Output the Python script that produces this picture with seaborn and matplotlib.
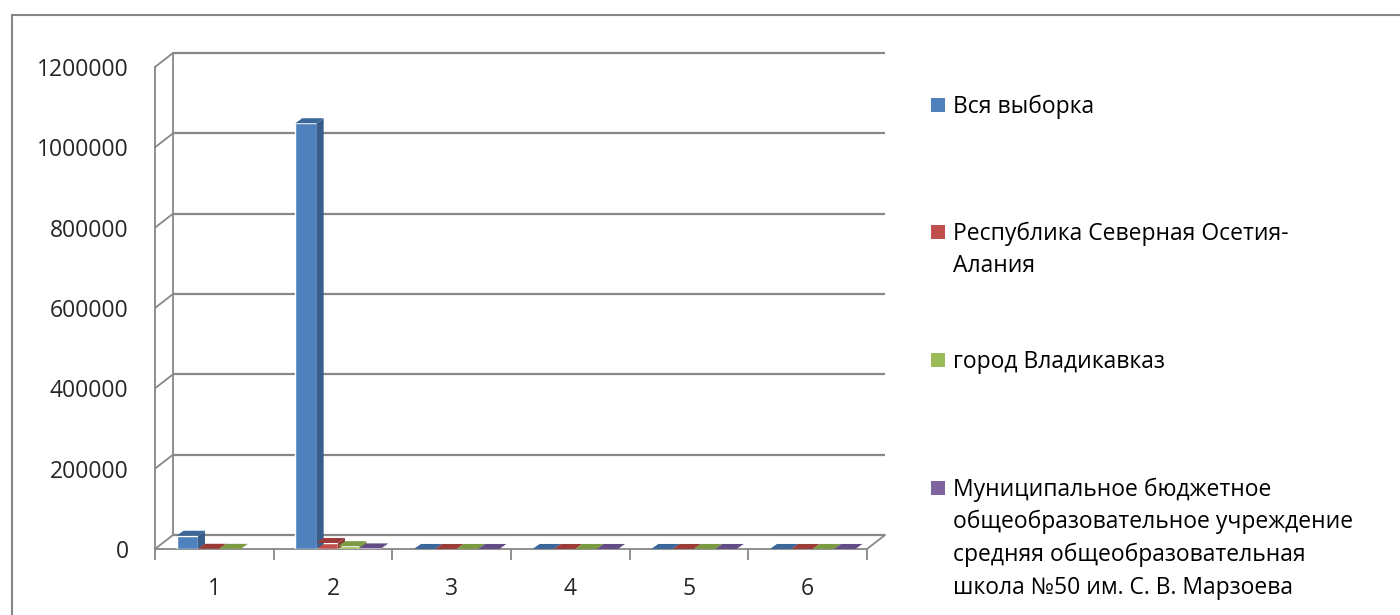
import numpy as np
import pandas as pd
import seaborn as sns
import matplotlib.pyplot as plt
from matplotlib.patches import Polygon, Rectangle
from matplotlib.colors import to_hex

categories = ['1', '2', '3', '4', '5', '6']
series = ['Вся выборка',
          'Республика Северная Осетия-\nАлания',
          'город Владикавказ',
          'Муниципальное бюджетное\nобщеобразовательное учреждение\nсредняя общеобразовательная\nшкола №50 им. С. В. Марзоева']
vsya = [33000, 1060000, 100, 100, 100, 100]
respublika = [500, 15000, 100, 100, 100, 100]
gorod = [400, 7000, 100, 100, 100, 100]
shkola = [np.nan, 1500, 100, 100, 100, 100]
yticks = [0, 200000, 400000, 600000, 800000, 1000000, 1200000]

colors = ['#4F81BD', '#C0504D', '#9BBB59', '#8064A2']
tops = ['#3B669A', '#9A3B38', '#7B9A42', '#634C86']
sides = ['#385D8A', '#8C3836', '#71893F', '#5C4776']

rows = []
for name, vals in zip(series, [vsya, respublika, gorod, shkola]):
    for c, v in zip(categories, vals):
        rows.append({'cat': c, 'series': name, 'val': v})
df = pd.DataFrame(rows)

sns.set_style('white')
plt.rcParams['font.family'] = ['Open Sans', 'DejaVu Sans']

W, H = 1400, 615
fig = plt.figure(figsize=(14, 6.15), dpi=100)
ax = fig.add_axes([155 / W, 66 / H, 712 / W, 482 / H])

sns.barplot(data=df, x='cat', y='val', hue='series', order=categories,
            hue_order=series, palette=colors, width=0.72, saturation=1,
            errorbar=None, legend=False, ax=ax, zorder=3)

ax.set_xlim(-0.5, 5.5)
ax.set_ylim(0, 1200000)

# pixel -> data conversion for the fake 3D depth
px_x = 6 / 712
px_y = 1200000 / 482
back_dx, back_dy = 18 * px_x, 14 * px_y
bar_dx, bar_dy = 7 * px_x, 5 * px_y

grey = '#878787'
# back wall gridlines and left-wall diagonals
x0b, x1b = -0.5 + back_dx, 5.5 + back_dx
for v in yticks:
    ax.plot([x0b, x1b], [v + back_dy, v + back_dy], color=grey, lw=1.6,
            zorder=1, clip_on=False, solid_capstyle='butt')
    ax.plot([-0.5, x0b], [v, v + back_dy], color=grey, lw=1.3,
            zorder=1, clip_on=False)
ax.plot([x0b, x0b], [back_dy, 1200000 + back_dy], color=grey, lw=1.3,
        zorder=1, clip_on=False)
ax.plot([5.5, x1b], [0, back_dy], color=grey, lw=1.3, zorder=1, clip_on=False)

# 3D faces for bars (bars nudged right a little, like Excel does)
cmap = {to_hex(c): i for i, c in enumerate(colors)}
shift = 5 * px_x
for p in list(ax.patches):
    h = p.get_height()
    i = cmap.get(to_hex(p.get_facecolor()))
    if i is None:
        continue
    p.set_x(p.get_x() + shift)
    if np.isnan(h):
        continue
    x0, x1 = p.get_x(), p.get_x() + p.get_width()
    ax.add_patch(Polygon([(x1, 0), (x1 + bar_dx, bar_dy), (x1 + bar_dx, h + bar_dy), (x1, h)],
                         closed=True, facecolor=sides[i], edgecolor='none',
                         zorder=3, clip_on=False))
    ax.add_patch(Polygon([(x0, h), (x1, h), (x1 + bar_dx, h + bar_dy), (x0 + bar_dx, h + bar_dy)],
                         closed=True, facecolor=tops[i], edgecolor='none',
                         zorder=3, clip_on=False))

sns.despine(ax=ax, top=True, right=True)
for s in ['left', 'bottom']:
    ax.spines[s].set_color(grey)
    ax.spines[s].set_linewidth(1.3)
    ax.spines[s].set_zorder(2)

ax.set_yticks(yticks)
ax.set_yticklabels([str(v) for v in yticks])
ax.set_xticks(range(len(categories)))
ax.set_xticklabels(categories)
ax.set_xticks(np.arange(-0.5, 6, 1), minor=True)
ax.tick_params(axis='y', length=5, width=1.3, color=grey, pad=14, labelsize=16.5)
ax.tick_params(axis='x', which='major', length=0, pad=20, labelsize=16.5)
ax.tick_params(axis='x', which='minor', length=8, width=1.3, color=grey, bottom=True)
ax.set_xlabel('')
ax.set_ylabel('')

# legend (Excel style, manual placement: marker beside the first line)
leg_y = [105, 232, 360, 488]
line_h = 32.5
for name, c, y in zip(series, colors, leg_y):
    fig.patches.append(Rectangle((931 / W, 1 - (y + 7) / H), 14 / W, 14 / H,
                                 transform=fig.transFigure, facecolor=c,
                                 edgecolor='none'))
    for k, line in enumerate(name.split('\n')):
        fig.text(953 / W, 1 - (y + 8 + k * line_h) / H, line, ha='left',
                 va='baseline', fontsize=16.5, color='black')

# chart area border
fig.patches.append(Rectangle((12 / W, -0.1), 1.2, 1.1 - 15 / H,
                             transform=fig.transFigure, facecolor='none',
                             edgecolor=grey, lw=1.5))

fig.savefig('out.png', dpi=100)
